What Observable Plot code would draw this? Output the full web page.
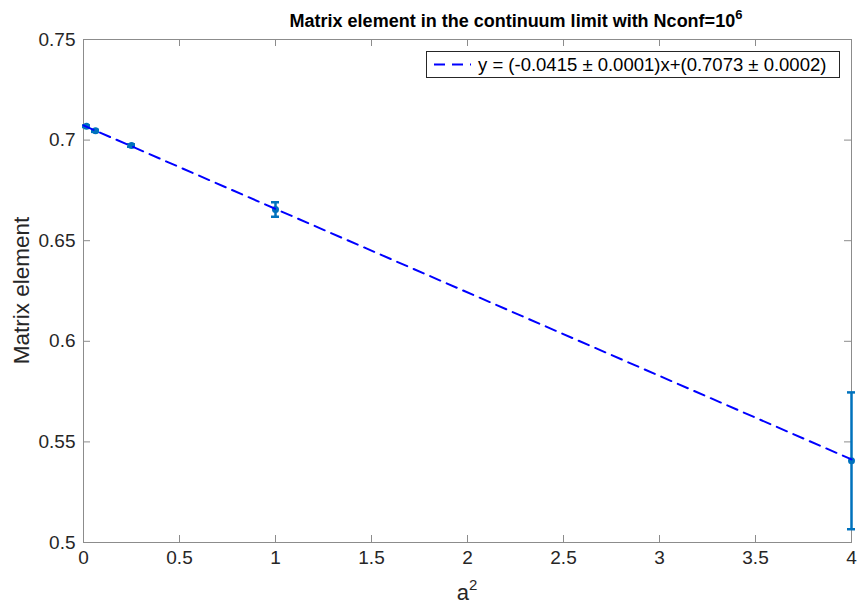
<!DOCTYPE html>
<html><head><meta charset="utf-8">
<script src="https://cdn.jsdelivr.net/npm/d3@7"></script>
<script src="https://cdn.jsdelivr.net/npm/@observablehq/plot@0.6"></script>
<style>
body{margin:0;background:#fff;font-family:"Liberation Sans",Arial,Helvetica,sans-serif;}
#wrap{position:relative;width:859px;height:607px;}
#legend{position:absolute;left:426px;top:51px;width:414px;height:27px;border:1px solid #262626;background:#fff;box-sizing:border-box;}
#legend svg{position:absolute;left:0;top:0;}
#legend span{position:absolute;left:51px;top:3px;font-size:18.5px;line-height:20px;color:#000;white-space:nowrap;}
</style></head><body><div id="wrap"></div>
<script>
// data
const a2 = [0.015625, 0.0625, 0.25, 1, 4];
const value = [0.7069, 0.7046, 0.6973, 0.6655, 0.5406];
const err = [0.0004, 0.0005, 0.0006, 0.0036, 0.0340];
const fitX = [0, 4];
const fitY = [0.7073, 0.5413];
const xTicks = [0, 0.5, 1, 1.5, 2, 2.5, 3, 3.5, 4];
const xTickLabels = ["0", "0.5", "1", "1.5", "2", "2.5", "3", "3.5", "4"];
const yTicks = [0.5, 0.55, 0.6, 0.65, 0.7, 0.75];
const yTickLabels = ["0.5", "0.55", "0.6", "0.65", "0.7", "0.75"];
const legendLabel = "y = (-0.0415 \u00b1 0.0001)x+(0.7073 \u00b1 0.0002)";

const pts = a2.map((x, i) => ({x, y: value[i], lo: value[i] - err[i], hi: value[i] + err[i]}));
const fit = fitX.map((x, i) => ({x, y: fitY[i]}));

const W = 859, H = 607, mL = 83, mR = 8, mT = 39, mB = 65;
const iw = W - mL - mR, ih = H - mT - mB, tl = 7;
const axisCol = "#8c8c8c", txtCol = "#262626", dataCol = "#0072BD";

const plot = Plot.plot({
  width: W, height: H,
  marginLeft: mL, marginRight: mR, marginTop: mT, marginBottom: mB,
  x: {domain: [0, 4]},
  y: {domain: [0.5, 0.75]},
  style: {fontFamily: '"Liberation Sans", Arial, Helvetica, sans-serif', fontSize: "19px", color: txtCol, background: "#fff"},
  marks: [
    Plot.tickX(xTicks, {x: d => d, insetTop: ih - tl, stroke: axisCol}),
    Plot.tickX(xTicks, {x: d => d, insetBottom: ih - tl, stroke: axisCol}),
    Plot.tickY(yTicks, {y: d => d, insetRight: iw - tl, stroke: axisCol}),
    Plot.tickY(yTicks, {y: d => d, insetLeft: iw - tl, stroke: axisCol}),
    Plot.frame({stroke: axisCol}),
    Plot.axisX({ticks: xTicks, tickSize: 0, tickPadding: 8, tickFormat: (d, i) => xTickLabels[i], label: null, fill: txtCol}),
    Plot.axisY({ticks: yTicks, tickSize: 0, tickPadding: 8, tickFormat: (d, i) => yTickLabels[i], label: null, fill: txtCol}),
    Plot.ruleX(pts, {x: "x", y1: "lo", y2: "hi", stroke: dataCol, strokeWidth: 2.5}),
    Plot.ruleY(pts, {y: "hi", x1: "x", x2: "x", insetLeft: -4, insetRight: -4, stroke: dataCol, strokeWidth: 2.5}),
    Plot.ruleY(pts, {y: "lo", x1: "x", x2: "x", insetLeft: -4, insetRight: -4, stroke: dataCol, strokeWidth: 2.5}),
    Plot.dot(pts, {x: "x", y: "y", r: 3.5, fill: dataCol, stroke: "none"}),
    Plot.line(fit, {x: "x", y: "y", stroke: "#0000ff", strokeWidth: 2, strokeDasharray: "11,7"})
  ]
});

const wrap = document.getElementById("wrap");
wrap.appendChild(plot);
const svg = d3.select(plot);
svg.style("overflow", "visible");

// title with superscript
const t = svg.append("text").attr("x", 516).attr("y", 27)
  .attr("text-anchor", "middle").attr("font-weight", "bold").attr("font-size", "18px").attr("fill", "#000");
t.append("tspan").text("Matrix element in the continuum limit with Nconf=10");
t.append("tspan").attr("dy", -8).attr("font-size", "13px").text("6");

// x label with superscript
const xl = svg.append("text").attr("x", mL + iw / 2).attr("y", 600)
  .attr("text-anchor", "middle").attr("font-size", "22px").attr("fill", txtCol);
xl.append("tspan").text("a");
xl.append("tspan").attr("dy", -10).attr("font-size", "15px").text("2");

// y label
svg.append("text").attr("transform", `translate(29,${mT + ih / 2}) rotate(-90)`)
  .attr("text-anchor", "middle").attr("font-size", "22.5px").attr("fill", txtCol).text("Matrix element");

// legend
const lg = document.createElement("div");
lg.id = "legend";
lg.innerHTML = `<svg width="50" height="25"><line x1="7" y1="12.5" x2="44" y2="12.5" stroke="#0000ff" stroke-width="2" stroke-dasharray="11,7"/></svg><span></span>`;
lg.querySelector("span").textContent = legendLabel;
wrap.appendChild(lg);
</script>
</body></html>
